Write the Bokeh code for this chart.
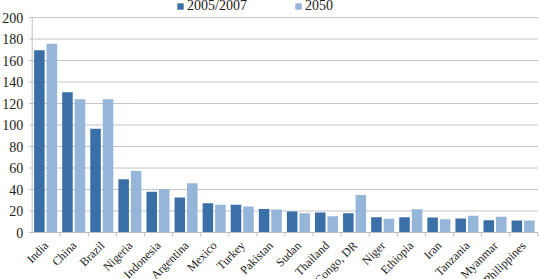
import math
from bokeh.plotting import figure
from bokeh.models import ColumnDataSource, Range1d, Legend, LegendItem
from bokeh.transform import dodge
from bokeh.core.properties import value
from bokeh.embed import file_html
from bokeh.resources import INLINE

countries = ["India", "China", "Brazil", "Nigeria", "Indonesia", "Argentina", "Mexico",
             "Turkey", "Pakistan", "Sudan", "Thailand", "Congo, DR", "Niger", "Ethiopia",
             "Iran", "Tanzania", "Myanmar", "Philippines"]
v2005 = [169.5, 130.5, 96.5, 49.5, 37.8, 32.5, 27.2, 25.7, 21.8, 19.6, 18.7, 18.0, 14.3, 14.3,
         14.0, 13.0, 11.3, 11.2]
v2050 = [175.5, 124.0, 124.0, 57.3, 40.2, 45.8, 25.7, 24.2, 21.4, 17.8, 15.2, 34.8, 12.7, 21.7,
         12.4, 15.5, 14.6, 11.2]
yticks = [0, 20, 40, 60, 80, 100, 120, 140, 160, 180, 200]
ytick_labels = [str(t) for t in yticks]
y_min, y_max = 0, 200

DARK = "#3A6FA8"
LIGHT = "#95B5D9"
AXIS = "#bfbfbf"
GRID = "#c4c4c4"
TEXT = "#222222"
FONT = "Liberation Serif"

W, H = 539, 279
# frame geometry in pixels
LEFT_PX, RIGHT_PX = 31.7, 1.7
TOP_PX, BOTTOM_PX = 17, 47
n = len(countries)
PX_PER_CAT = (W - LEFT_PX - RIGHT_PX) / n
PX_PER_UNIT = (H - TOP_PX - BOTTOM_PX) / (y_max - y_min)

centers = [i + 0.5 for i in range(n)]
src = ColumnDataSource(dict(x=centers, c=countries, a=v2005, b=v2050,
                            y0=[y_min] * n))
bound_src = ColumnDataSource(dict(x=[i + 1 for i in range(n)], y0=[y_min] * n,
                                  y1=[y_min - 4 / PX_PER_UNIT] * n))
ytick_src = ColumnDataSource(dict(y=yticks, t=ytick_labels, x0=[0] * len(yticks),
                                  x1=[n] * len(yticks),
                                  xt=[-3 / PX_PER_CAT] * len(yticks)))

p = figure(width=W, height=H,
           x_range=Range1d(-LEFT_PX / PX_PER_CAT, n + RIGHT_PX / PX_PER_CAT),
           y_range=Range1d(y_min - BOTTOM_PX / PX_PER_UNIT, y_max + TOP_PX / PX_PER_UNIT),
           output_backend="svg", toolbar_location=None,
           min_border=0, min_border_left=0, min_border_right=0,
           min_border_top=0, min_border_bottom=0)
p.outline_line_color = None
p.background_fill_color = "white"
p.border_fill_color = "white"
p.xaxis.visible = False
p.yaxis.visible = False
p.xgrid.visible = False
p.ygrid.visible = False

# gridlines
p.segment(x0="x0", x1="x1", y0="y", y1="y", source=ytick_src, line_color=GRID, line_width=1)

BAR_W = 0.375
r1 = p.vbar(x=dodge("x", -0.245), top="a", bottom="y0", width=BAR_W, source=src,
            fill_color=DARK, line_color=None)
r2 = p.vbar(x=dodge("x", 0.2), top="b", bottom="y0", width=BAR_W, source=src,
            fill_color=LIGHT, line_color=None)

# axes
p.segment(x0=0, x1=n, y0=y_min, y1=y_min, line_color=AXIS, line_width=1)
p.segment(x0=0, x1=0, y0=y_min, y1=y_max, line_color=AXIS, line_width=1)
p.segment(x0="x", x1="x", y0="y0", y1="y1", source=bound_src, line_color=AXIS, line_width=1)
p.segment(x0="xt", x1="x0", y0="y", y1="y", source=ytick_src, line_color=AXIS, line_width=1)

# tick labels
p.text(x="x0", y="y", text="t", source=ytick_src, x_offset=-9,
       text_align="right", text_baseline="middle",
       text_font=value(FONT), text_font_size="14px", text_color=TEXT)
p.text(x="x", y="y0", text="c", source=src, angle=math.pi / 4,
       text_align="right", text_baseline="middle", x_offset=0, y_offset=11,
       text_font=value(FONT), text_font_size="12px", text_color=TEXT)

legend = Legend(items=[LegendItem(label="2005/2007", renderers=[r1]),
                       LegendItem(label="2050", renderers=[r2])],
                orientation="horizontal", location=(176, 265),
                label_text_font=FONT, label_text_font_size="14px",
                label_text_color=TEXT,
                glyph_width=8, glyph_height=8, spacing=47, padding=0, margin=0,
                label_standoff=3, border_line_color=None, background_fill_alpha=0)
p.add_layout(legend, "center")

open("out.html", "w").write(file_html(p, INLINE))
